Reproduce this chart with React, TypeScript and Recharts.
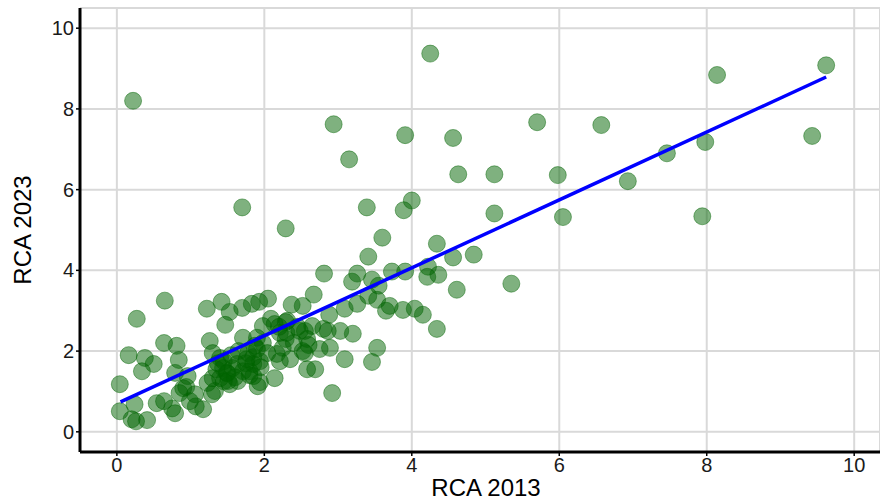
import React from 'react';
import { ScatterChart, Scatter, XAxis, YAxis, CartesianGrid, Label } from 'recharts';

const rca2013: number[] = [
  0.04, 0.04, 0.22, 0.16, 0.27, 0.38, 0.50, 0.34, 0.24, 0.20, 0.26, 0.41, 0.65, 0.64, 0.81, 0.84,
  0.79, 0.96, 0.54, 0.64, 0.75, 0.79, 0.85, 0.90, 0.94, 1.06, 1.07, 1.17, 0.99,
  1.22, 1.42, 1.53, 1.47, 1.70, 1.83, 1.93, 2.05, 2.09, 1.98, 2.14, 2.29, 2.37, 1.71, 1.90,
  1.26, 1.30, 1.40, 1.44, 1.30, 1.29, 1.40, 1.53, 1.63, 1.71, 1.85, 1.85, 1.94, 1.78, 1.87,
  1.98, 2.04, 1.94, 2.17, 2.14, 2.21, 2.29, 2.25, 2.21, 2.35, 1.64, 1.51, 1.70, 2.29, 2.52,
  2.67, 2.55, 2.52, 2.58, 2.31, 2.94, 3.15, 3.39, 3.60, 3.41, 2.81, 3.26, 3.19, 3.46, 3.55,
  3.73, 3.91, 4.22, 4.21, 4.36, 4.34, 4.56, 4.61, 4.84, 2.88, 3.09, 3.26, 3.41, 3.53, 3.65,
  3.88, 4.04, 4.15, 4.34, 2.65, 2.48, 2.80, 2.86, 3.03, 3.20, 2.58, 2.55, 2.75, 2.89, 3.09,
  3.53, 3.46, 2.69, 2.92, 3.91, 4.25, 4.56, 4.63, 4.00, 3.89, 5.35, 5.12, 5.12, 5.70, 5.98,
  6.05, 6.57, 6.93, 7.46, 7.98, 8.14, 7.94, 9.43, 9.62,
  1.23, 1.33, 1.49, 1.57, 1.80, 1.91, 1.37, 1.76, 3.70,
  1.45, 1.50, 1.55, 1.60, 1.65, 1.75, 1.80, 1.85, 1.90, 1.45, 1.35, 2.30, 2.40, 2.45, 2.60, 2.20, 1.95,
];

const rca2023: number[] = [
  1.18, 0.51, 8.20, 1.90, 2.80, 1.83, 1.68, 1.50, 0.68, 0.31, 0.26, 0.29, 3.25, 2.20, 2.13, 1.78,
  1.46, 1.38, 0.71, 0.76, 0.58, 0.46, 0.96, 1.08, 1.11, 0.93, 0.63, 0.56, 0.76,
  3.05, 3.22, 2.97, 2.65, 3.07, 3.17, 3.22, 3.30, 2.80, 2.62, 2.67, 2.72, 3.15, 2.33, 2.33,
  2.25, 1.95, 1.83, 1.58, 1.33, 0.93, 1.33, 1.18, 1.68, 1.50, 1.68, 1.38, 1.23, 1.95, 2.13,
  2.20, 1.95, 1.75, 1.93, 1.33, 2.45, 2.30, 2.08, 1.75, 1.80, 1.26, 1.26, 5.56, 5.04, 3.12,
  3.40, 2.50, 2.00, 1.55, 2.75, 7.62, 6.75, 5.56, 4.81, 4.34, 3.92, 3.92, 3.72, 3.77, 3.62,
  3.97, 3.97, 4.09, 3.84, 3.89, 4.66, 4.32, 3.52, 4.39, 2.90, 3.05, 3.17, 3.37, 3.27, 3.00,
  3.02, 3.05, 2.90, 2.55, 2.62, 2.50, 2.55, 2.50, 2.50, 2.43, 2.30, 1.95, 2.05, 2.08, 1.80,
  2.08, 1.73, 1.55, 0.96, 7.35, 9.37, 7.28, 6.38, 5.73, 5.49, 3.67, 6.38, 5.41, 7.67, 6.36,
  5.32, 7.60, 6.21, 6.90, 7.18, 8.84, 5.34, 7.33, 9.08,
  1.21, 1.01, 1.46, 1.58, 1.50, 1.13, 1.70, 1.80, 3.12,
  1.75, 1.45, 1.90, 1.35, 2.00, 1.70, 1.40, 1.85, 2.05, 1.25, 1.55, 2.45, 2.20, 2.60, 2.15, 2.60, 1.60,
];

const fitX: number[] = [0.05, 9.62];
const fitY: number[] = [0.74, 8.79];

const xTicks: number[] = [0, 2, 4, 6, 8, 10];
const yTicks: number[] = [0, 2, 4, 6, 8, 10];

const points = rca2013.map((x, i) => ({ x, y: rca2023[i] }));
const fitLine = fitX.map((x, i) => ({ x, y: fitY[i] }));

const FONT = '"Liberation Sans", Arial, sans-serif';

const Dot = (props: any) => {
  const { cx, cy } = props;
  if (cx == null || cy == null) return null;
  return (
    <circle
      cx={cx}
      cy={cy}
      r={8.5}
      fill="rgba(0,100,0,0.5)"
      stroke="rgba(0,100,0,0.45)"
      strokeWidth={1}
    />
  );
};

const NoDot = () => null;

export default function App() {
  return (
    <div style={{ position: 'absolute', left: 0, top: 0, width: 880, height: 501, background: '#fff' }}>
      <ScatterChart width={880} height={501} margin={{ top: 8, right: 0, bottom: 0, left: 0 }}>
        <CartesianGrid stroke="#d9d9d9" strokeWidth={2} />
        <XAxis
          type="number"
          dataKey="x"
          domain={[-0.5, 10.35]}
          ticks={xTicks}
          allowDataOverflow
          height={49}
          axisLine={{ stroke: '#000', strokeWidth: 3 }}
          tickLine={{ stroke: '#000', strokeWidth: 1.5 }}
          tickSize={4}
          tick={{ fill: '#1a1a1a', fontSize: 20, fontFamily: FONT }}
        >
          <Label
            value="RCA 2013"
            position="insideBottom"
            offset={5}
            dx={6}
            style={{ fill: '#000', fontSize: 24, fontFamily: FONT }}
          />
        </XAxis>
        <YAxis
          type="number"
          dataKey="y"
          domain={[-0.5, 10.5]}
          ticks={yTicks}
          allowDataOverflow
          width={80}
          axisLine={{ stroke: '#000', strokeWidth: 3 }}
          tickLine={{ stroke: '#000', strokeWidth: 1.5 }}
          tickSize={4}
          tick={{ fill: '#1a1a1a', fontSize: 20, fontFamily: FONT }}
        >
          <Label
            value="RCA 2023"
            position="center"
            angle={-90}
            dx={-18}
            style={{ fill: '#000', fontSize: 24, fontFamily: FONT, textAnchor: 'middle' }}
          />
        </YAxis>
        <Scatter data={points} shape={<Dot />} isAnimationActive={false} />
        <Scatter
          data={fitLine}
          line={{ stroke: '#0000ff', strokeWidth: 3.5 }}
          lineType="joint"
          shape={<NoDot />}
          isAnimationActive={false}
        />
      </ScatterChart>
    </div>
  );
}
